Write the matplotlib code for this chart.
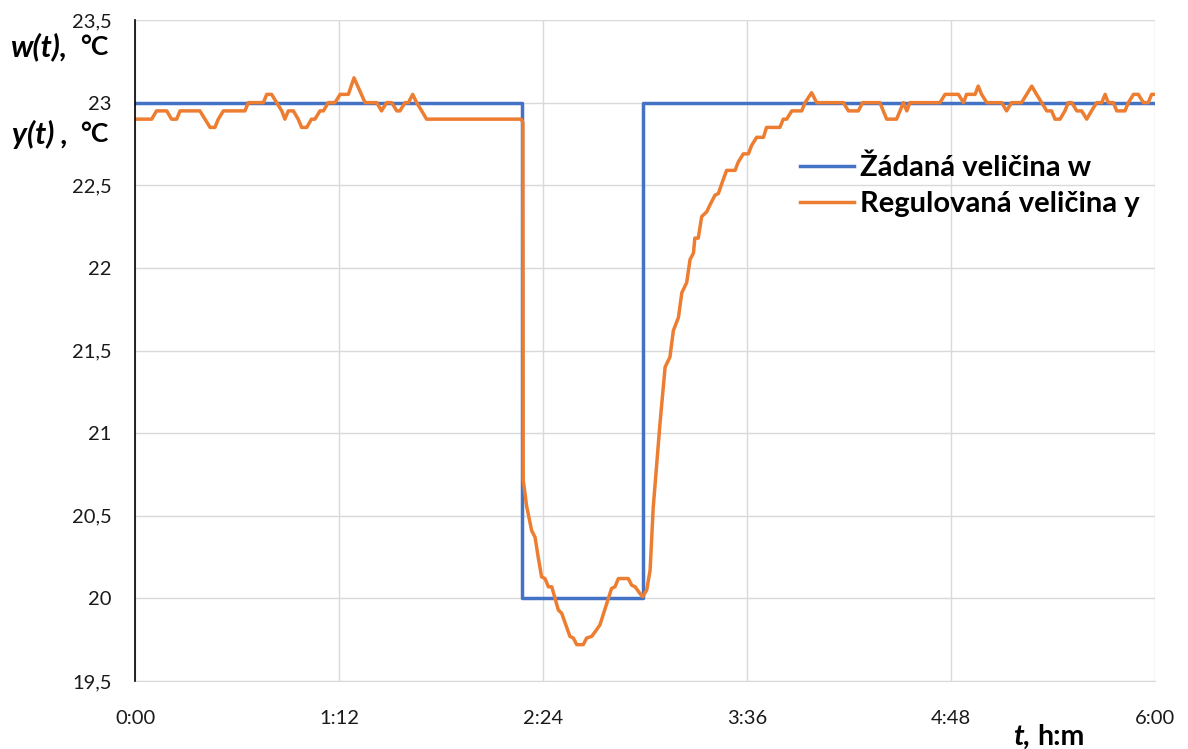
import numpy as np
import matplotlib.pyplot as plt

# setpoint w(t), minutes
t_w = [0, 136.6, 136.6, 179.4, 179.4, 360]
w = [23, 23, 20, 20, 23, 23]

# measured y(t), minutes
t_y = [0, 5.9, 7.6, 11.2, 12.9, 14.7, 15.9, 22.9, 24.7, 26.5, 28.2, 29.4, 31.2, 38.8,
       40.0, 45.3, 46.5, 48.2, 50.0, 51.8, 52.9, 54.1, 55.9, 57.6, 58.8, 60.6, 62.3,
       63.5, 65.3, 66.5, 68.2, 70.6, 72.4, 75.3, 77.3, 81.2, 85.3, 87.0, 88.8, 90.6,
       92.4, 93.5, 95.3, 96.5, 98.0, 99.4, 101.2, 102.9, 136.3, 136.9, 137.0, 138.2,
       140.0, 141.2, 142.3, 143.5, 144.7, 145.9, 147.1, 149.4, 150.6, 153.5, 154.7,
       155.9, 158.2, 159.4, 161.2, 162.9, 164.1, 166.5, 168.2, 169.4, 170.6, 174.1,
       175.3, 176.5, 178.2, 179.2, 180.6, 181.8, 182.9, 185.3, 187.1, 188.8, 190.0,
       191.8, 193.0, 194.7, 195.9, 197.1, 197.6, 198.8, 200.0, 201.8, 202.9, 204.7,
       205.9, 207.1, 208.8, 211.8, 212.9, 214.7, 216.5, 217.6, 219.4, 221.8, 222.9,
       227.6, 228.8, 230.0, 231.8, 235.3, 236.5, 238.8, 240.6, 250.0, 251.8, 255.3,
       256.8, 262.9, 265.3, 268.8, 270.0, 271.2, 272.4, 273.5, 284.1, 285.9, 290.6,
       292.4, 293.5, 296.5, 297.6, 298.8, 300.6, 305.9, 307.6, 309.4, 312.9, 314.7,
       316.5, 318.2, 320.0, 321.8, 323.5, 324.7, 326.5, 328.2, 329.4, 330.6, 332.4,
       334.1, 335.9, 337.6, 339.4, 341.2, 342.4, 343.5, 345.3, 346.5, 349.4, 350.6,
       352.4, 354.1, 355.9, 357.6, 358.8, 360.0]
y = [22.9, 22.9, 22.95, 22.95, 22.9, 22.9, 22.95, 22.95, 22.9, 22.85, 22.85, 22.9, 22.95, 22.95,
     23.0, 23.0, 23.05, 23.05, 23.0, 22.95, 22.9, 22.95, 22.95, 22.9, 22.85, 22.85, 22.9,
     22.9, 22.95, 22.95, 23.0, 23.0, 23.05, 23.05, 23.15, 23.0, 23.0, 22.95, 23.0, 23.0,
     22.95, 22.95, 23.0, 23.0, 23.05, 23.0, 22.95, 22.9, 22.9, 22.88, 20.72, 20.56,
     20.41, 20.37, 20.25, 20.13, 20.12, 20.07, 20.07, 19.93, 19.91, 19.77, 19.76,
     19.72, 19.72, 19.76, 19.77, 19.81, 19.84, 19.97, 20.06, 20.07, 20.12, 20.12,
     20.08, 20.07, 20.03, 20.01, 20.05, 20.17, 20.55, 21.06, 21.40, 21.46, 21.62,
     21.70, 21.85, 21.91, 22.05, 22.09, 22.18, 22.18, 22.31, 22.34, 22.38, 22.44,
     22.45, 22.51, 22.59, 22.59, 22.64, 22.69, 22.69, 22.74, 22.79, 22.79, 22.85,
     22.85, 22.9, 22.9, 22.95, 22.95, 23.0, 23.06, 23.0, 23.0, 22.95, 22.95,
     23.0, 23.0, 22.9, 22.9, 22.95, 23.0, 22.95, 23.0, 23.0, 23.05, 23.05,
     23.0, 23.05, 23.05, 23.1, 23.05, 23.0, 23.0, 22.95, 23.0, 23.0, 23.05,
     23.1, 23.05, 23.0, 22.95, 22.95, 22.9, 22.9, 22.95, 23.0, 23.0, 22.95,
     22.95, 22.9, 22.95, 23.0, 23.0, 23.05, 23.0, 23.0, 22.95, 22.95, 23.0,
     23.05, 23.05, 23.0, 23.0, 23.05, 23.05]

x_ticks = [0, 72, 144, 216, 288, 360]
x_labels = ['0:00', '1:12', '2:24', '3:36', '4:48', '6:00']
y_ticks = [19.5, 20, 20.5, 21, 21.5, 22, 22.5, 23, 23.5]
y_labels = ['19,5', '20', '20,5', '21', '21,5', '22', '22,5', '23', '23,5']

plt.rcParams['font.family'] = ['Lato', 'DejaVu Sans']

W, H = 1188, 749
fig = plt.figure(figsize=(W / 100, H / 100), dpi=100)
ax = fig.add_axes([135 / W, 1 - 681 / H, 1020 / W, 661 / H])

ax.plot(t_w, w, color='#4472C4', lw=2.5, label='Žádaná veličina w', solid_joinstyle='round')
ax.plot(t_y, y, color='#ED7D31', lw=2.5, label='Regulovaná veličina y', solid_joinstyle='round')

ax.set_xlim(0, 360)
ax.set_ylim(19.5, 23.5)
ax.set_xticks(x_ticks)
ax.set_xticklabels(x_labels)
ax.set_yticks(y_ticks)
ax.set_yticklabels(y_labels)
ax.tick_params(length=0, labelsize=14.5, colors='#1a1a1a')
ax.tick_params(axis='x', pad=21)
ax.tick_params(axis='y', pad=17)
ax.grid(True, color='#D9D9D9', lw=1)
ax.set_axisbelow(True)
for s in ['top', 'right']:
    ax.spines[s].set_visible(False)
ax.spines['bottom'].set_color('#D9D9D9')
ax.spines['left'].set_color('black')
ax.spines['left'].set_linewidth(1.2)
ax.spines['left'].set_zorder(5)

leg = ax.legend(loc='upper left', bbox_to_anchor=(800 / W, 1 - 155 / H),
                bbox_transform=fig.transFigure, frameon=False,
                prop={'weight': 'bold', 'size': 21}, handlelength=1.85,
                handletextpad=0.22, labelspacing=0.33, borderaxespad=0, borderpad=0)

# axis labels made of italic and upright parts
lab = dict(fontweight='bold', va='center', color='black')
fig.text(10 / W, 1 - 47 / H, 'w(t),', style='italic', ha='left', fontsize=22, **lab)
fig.text(108 / W, 1 - 47 / H, '°C', ha='right', fontsize=19, **lab)
fig.text(12 / W, 1 - 134 / H, 'y(t) ,', style='italic', ha='left', fontsize=22, **lab)
fig.text(108 / W, 1 - 134 / H, '°C', ha='right', fontsize=19, **lab)
fig.text(1031 / W, 1 - 737 / H, 't,', style='italic', ha='right', fontsize=21, **lab)
fig.text(1037 / W, 1 - 737 / H, 'h:m', ha='left', fontsize=20.5, **lab)

fig.savefig('out.png', dpi=100)
